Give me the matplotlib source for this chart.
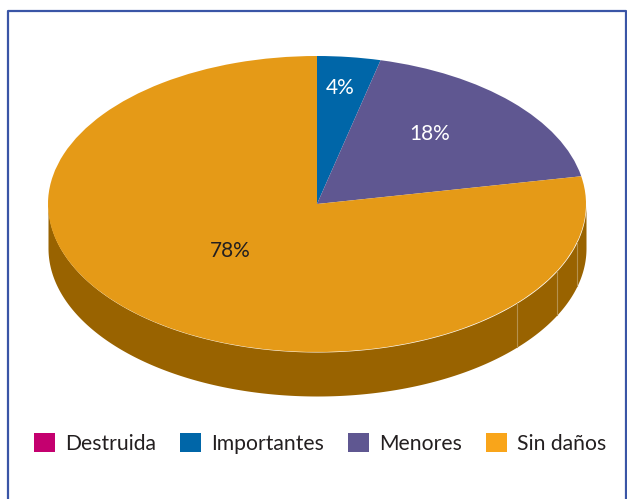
import numpy as np
import matplotlib
matplotlib.use("Agg")
import matplotlib.pyplot as plt
from matplotlib.lines import Line2D
from matplotlib.patches import Patch

W, H = 627, 499
categories = ["Destruida", "Importantes", "Menores", "Sin daños"]
values = [0, 3.8, 18.2, 78]
labels = ["", "4%", "18%", "78%"]
top_colors = ["#C4006F", "#0066A8", "#5F5791", "#E59A17"]
legend_colors = ["#C4006F", "#0066A8", "#5F5791", "#F9A51A"]
label_colors = ["white", "white", "white", "#231F20"]
label_px = [(0, 0), (340, 88), (430, 134), (230, 251)]
seam_px = [517, 557, 577]
side_color = "#996300"
seam_color = "#B5914E"
frame_color = "#3A55A6"
text_color = "#231F20"

plt.rcParams["font.family"] = ["Lato", "DejaVu Sans"]
fig = plt.figure(figsize=(W / 100, H / 100), dpi=100, facecolor="white")

left, right, top, bottom = 48, 586, 56, 352
depth_px = 44
ax = fig.add_axes([left / W, 1 - bottom / H, (right - left) / W, (bottom - top) / H])
ax.set_xlim(-1, 1)
ax.set_ylim(-1, 1)
depth = depth_px / ((bottom - top) / 2)

# side wall of the disc
theta = np.linspace(np.pi, 2 * np.pi, 400)
ax.fill_between(np.cos(theta), np.sin(theta), np.sin(theta) - depth,
                color=side_color, lw=0, clip_on=False, zorder=1)
for sx in seam_px:
    x = (sx - left) / (right - left) * 2 - 1
    y = -np.sqrt(1 - x ** 2)
    ax.plot([x, x], [y, y - depth], color=seam_color, lw=0.8, clip_on=False, zorder=2)

wedges, _ = ax.pie(values, colors=top_colors, startangle=90, counterclock=False,
                   radius=1, center=(0, 0), frame=True,
                   wedgeprops=dict(linewidth=0))
for w in wedges:
    w.set_zorder(3)
    w.set_clip_on(False)
ax.set_aspect("auto")
ax.set_xlim(-1, 1)
ax.set_ylim(-1, 1)
ax.set_axis_off()

for lab, (px, py), c in zip(labels, label_px, label_colors):
    if lab:
        fig.text(px / W, 1 - py / H, lab, color=c, fontsize=15,
                 ha="center", va="center")

# frame, open at the bottom
fig.add_artist(Line2D(np.array([8, 8, 626, 626]) / W,
                      1 - np.array([499, 11, 11, 499]) / H,
                      color=frame_color, lw=1.6))

handles = [Patch(facecolor=c, edgecolor="none") for c in legend_colors]
fig.legend(handles, categories, loc="upper left",
           bbox_to_anchor=(34 / W, 1 - 433 / H), borderaxespad=0, borderpad=0,
           ncol=4, frameon=False, fontsize=15.2, labelcolor=text_color,
           handlelength=1.0, handleheight=1.0, handletextpad=0.46, columnspacing=1.15)

fig.savefig("out.png", dpi=100)
